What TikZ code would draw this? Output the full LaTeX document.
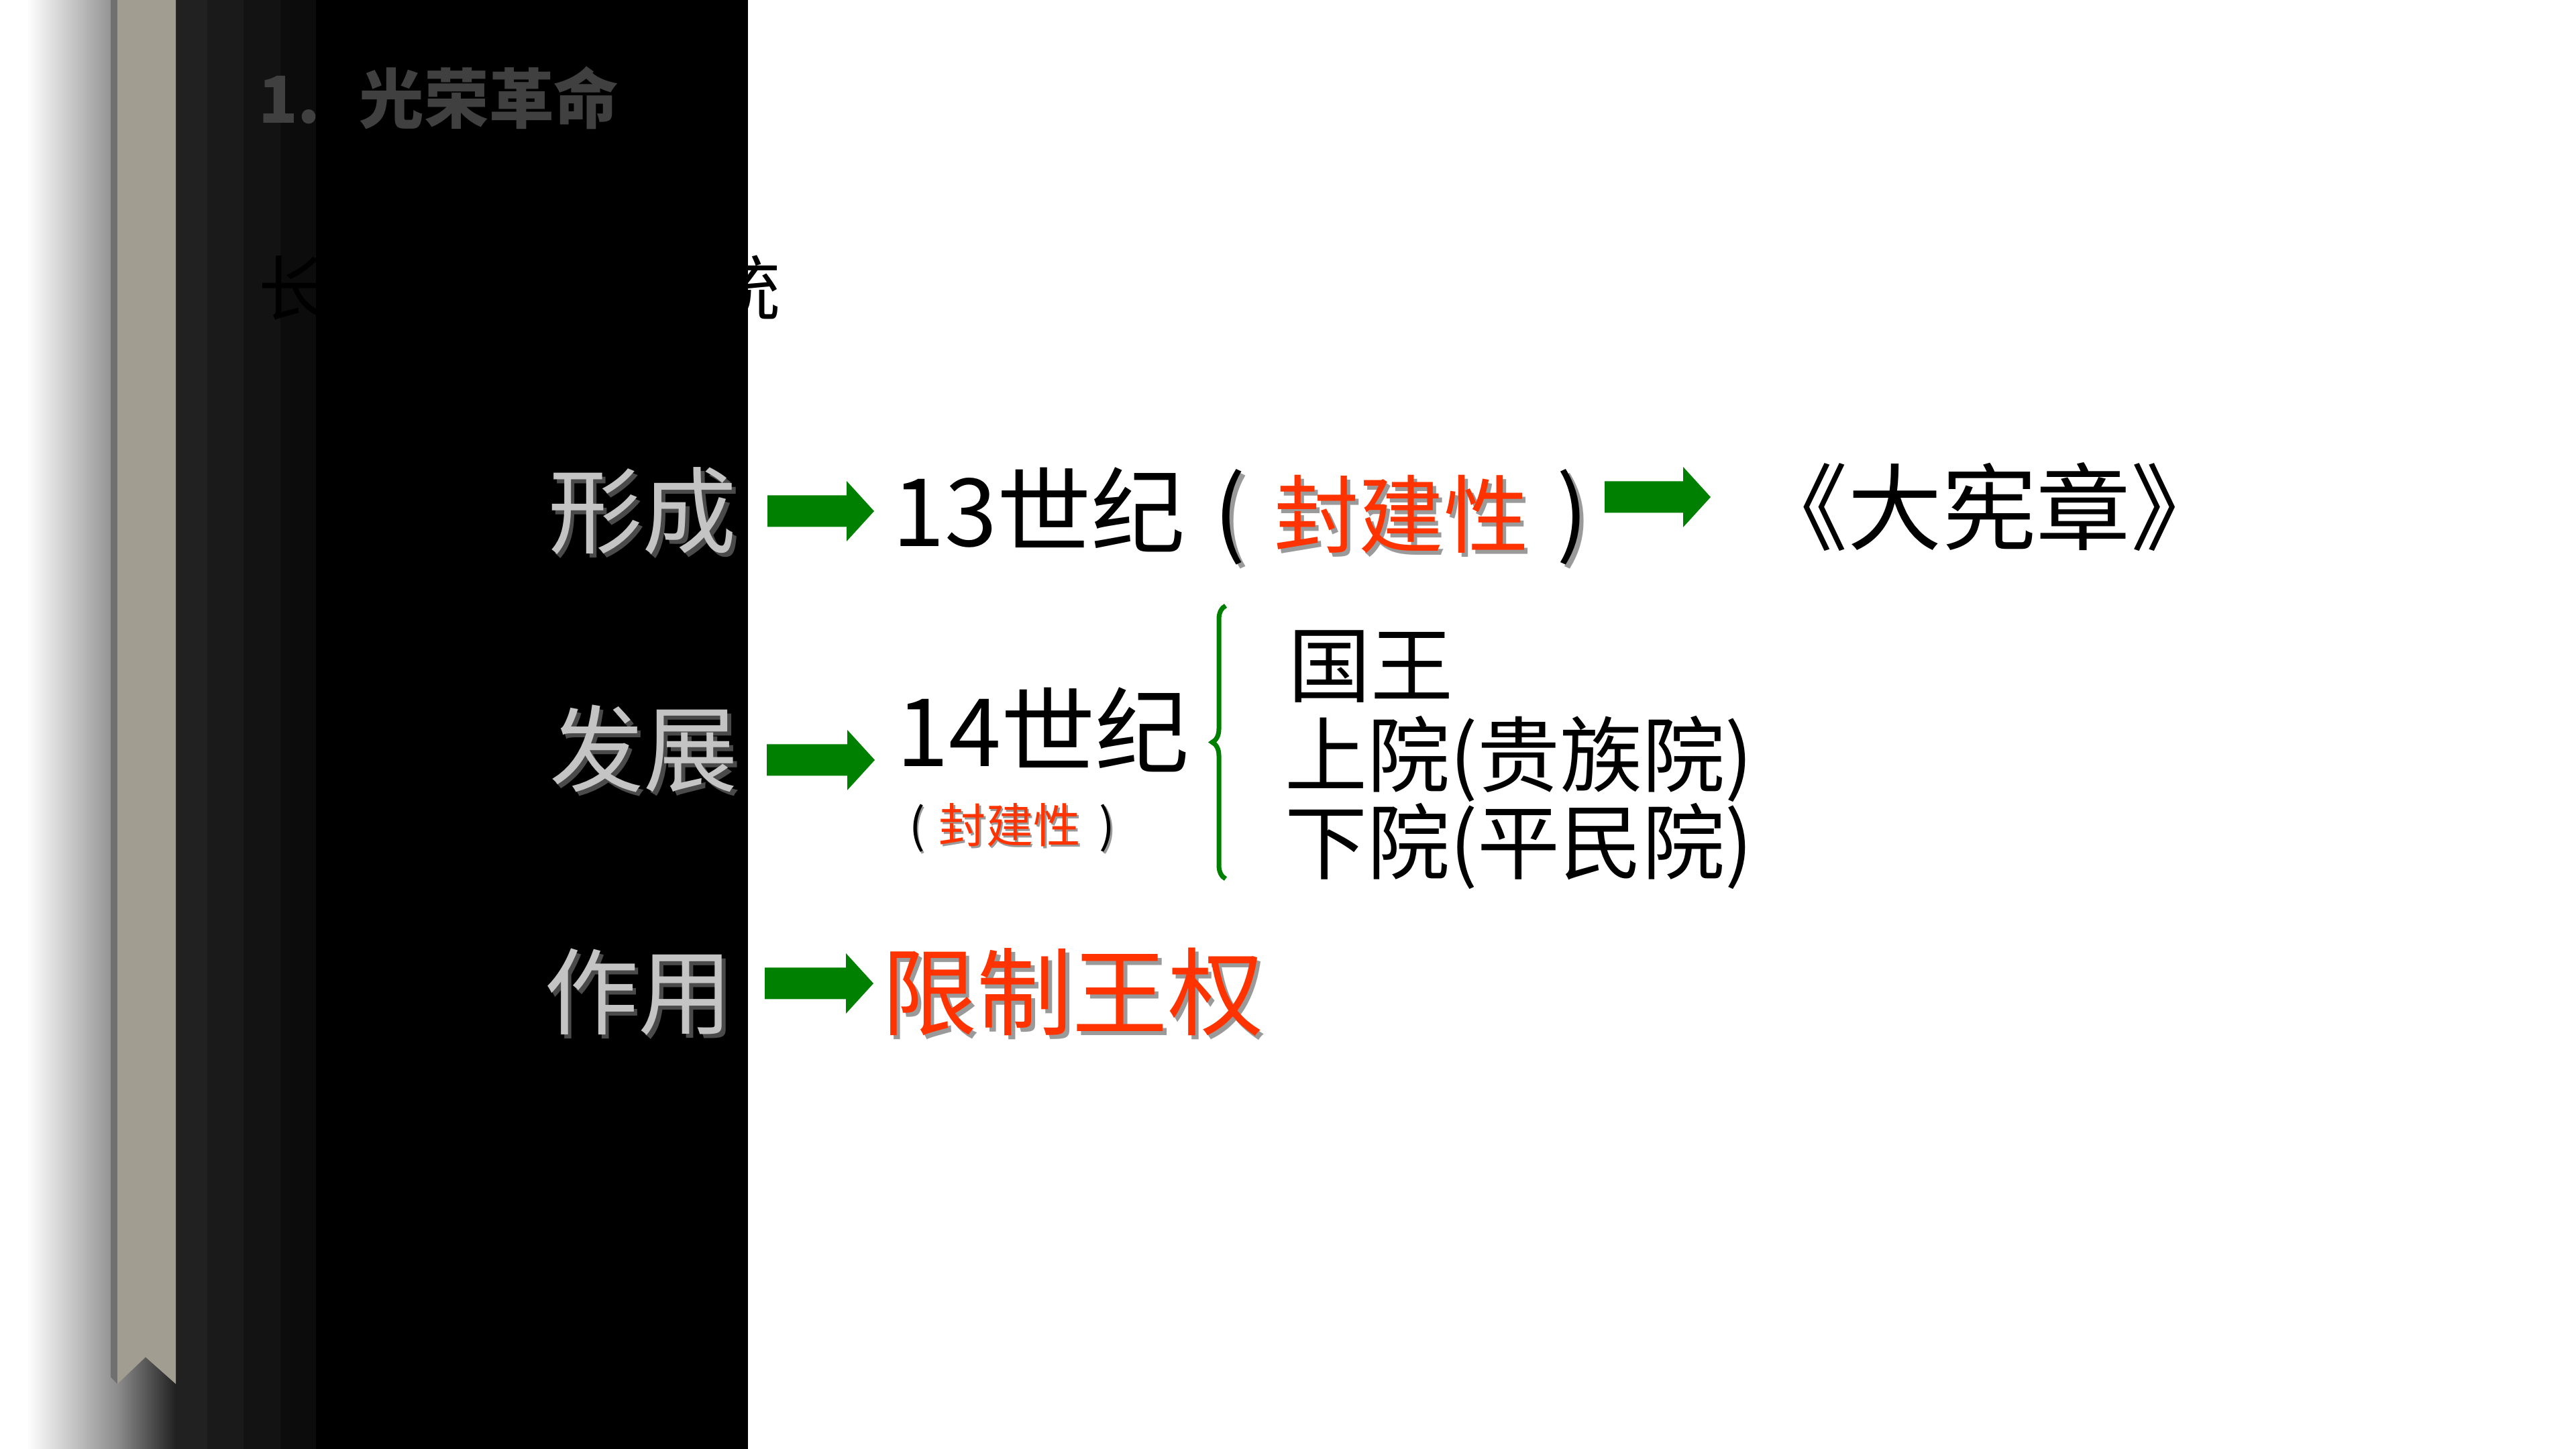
\documentclass[tikz,border=0pt]{standalone}
\usepackage{fontspec}
\setmainfont{Noto Sans CJK SC}
\usepackage{xcolor}
\usetikzlibrary{decorations.pathreplacing}
\definecolor{grgreen}{HTML}{008000}
\definecolor{grred}{HTML}{FF3300}
\definecolor{grtitlegray}{HTML}{404040}
\definecolor{grsilver}{HTML}{C4C4C4}
\definecolor{grshade}{HTML}{9A9A9A}
\definecolor{grdarkshade}{HTML}{4A4A4A}
\definecolor{grshadow}{HTML}{8C8C8C}
\definecolor{grribbon}{HTML}{A19D91}
\definecolor{grribbonshadow}{HTML}{707070}
\definecolor{grstripa}{HTML}{212121}
\definecolor{grstripb}{HTML}{1A1A1A}
\definecolor{grstripc}{HTML}{131313}
\definecolor{grstripd}{HTML}{0C0C0C}
% texto con sombra: color, sombra, texto
\newcommand\shtext[3]{\makebox[0pt][l]{\hspace{0.04em}\raisebox{-0.04em}{\textcolor{#2}{#3}}}\textcolor{#1}{#3}}

\begin{document}
\begin{tikzpicture}[
        every node/.style={inner sep=0pt, outer sep=0pt, anchor=base west},
        % ============= Estilos =============
        grtitle/.style={font=\fontsize{27.5}{30}\selectfont\bfseries, text=grtitlegray},
        grsub/.style={font=\fontsize{30}{34}\selectfont, text=black},
        grlabel/.style={font=\fontsize{40}{48}\selectfont},
        grmain/.style={font=\fontsize{40}{48}\selectfont, text=black},
        grlist/.style={font=\fontsize{35}{40}\selectfont, text=black},
        grsmall/.style={font=\fontsize{20}{24}\selectfont},
        grarrow/.style={fill=grgreen},
        grbrace/.style={draw=grgreen, line width=2pt, decorate,
                        decoration={brace, amplitude=0.2cm}}
    ]
        \useasboundingbox (0,0) rectangle (38.4,21.6);
        \fill[white] (0,0) rectangle (38.4,21.6);

        % ===== Sombra y franjas oscuras =====
        \shade[left color=white, right color=grshadow] (0.40,0) rectangle (1.75,21.6);
        \shade[left color=grshadow, right color=grstripa] (1.75,0) rectangle (2.62,21.6);
        \foreach \xa/\xb/\col in {2.62/3.09/grstripa, 3.09/3.63/grstripb,
                                  3.63/4.18/grstripc, 4.18/4.71/grstripd}{
            \fill[\col] (\xa,0) rectangle (\xb,21.6);
        }

        % ===== Subtitulo (tapado por el panel) =====
        \node[grsub] (chang) at (3.85,16.90) {长};
        \node[grsub] (tong) at (10.58,16.90) {统};

        % ===== Panel negro =====
        \fill[black] (4.71,0) rectangle (11.15,21.6);

        % ===== Titulo =====
        \node[grtitle] (title) at (3.85,19.76) {1.\hspace{0.6em}光荣革命};

        % ===== Cinta =====
        \fill[grribbonshadow] (1.65,21.6) -- (1.75,21.6) -- (1.75,0.97) -- (1.65,1.07) -- cycle;
        \fill[grribbon] (1.75,21.6) -- (2.62,21.6) -- (2.62,0.97) -- (2.17,1.37) -- (1.75,0.97) -- cycle;

        % ===== Etiquetas =====
        \foreach \nm/\xx/\yy/\txt in {xc/8.17/13.45/形成, fz/8.19/9.90/发展, zy/8.11/6.28/作用}{
            \node[grlabel] (\nm) at (\xx,\yy) {\shtext{grsilver}{grdarkshade}{\txt}};
        }

        % ===== Flechas =====
        \foreach \xs/\xe/\yc in {11.44/13.03/13.98, 23.92/25.50/14.19,
                                 11.43/13.04/10.27, 11.40/13.02/6.94}{
            \fill[grarrow] (\xs,\yc-0.235) -- (\xe-0.41,\yc-0.235) -- (\xe-0.41,\yc-0.45)
                -- (\xe,\yc) -- (\xe-0.41,\yc+0.45) -- (\xe-0.41,\yc+0.235)
                -- (\xs,\yc+0.235) -- cycle;
        }

        % ===== Formacion =====
        \node[grmain] (c13) at (13.30,13.45)
            {13世纪\hspace{0.3em}\shtext{black}{grshade}{(}\hspace{0.3em}{\fontsize{36}{40}\selectfont\shtext{grred}{grshade}{封建性}}\hspace{0.3em}\shtext{black}{grshade}{)}};
        \node[grmain] (mc) at (26.14,13.50) {《大宪章》};

        % ===== Desarrollo =====
        \node[grmain] (c14) at (13.36,10.17) {14世纪};
        \node[grsmall] (fj) at (13.55,9.03)
            {\shtext{black}{grshade}{(}\hspace{0.3em}\shtext{grred}{grshade}{封建性}\hspace{0.4em}\shtext{black}{grshade}{)}};
        \draw[grbrace] (18.27,8.50) -- (18.27,12.57);
        \foreach \nm/\xx/\yy/\txt in {king/19.20/11.22/国王,
                                      upper/19.15/9.88/{上院(贵族院)},
                                      lower/19.15/8.58/{下院(平民院)}}{
            \node[grlist] (\nm) at (\xx,\yy) {\txt};
        }

        % ===== Funcion =====
        \node[grmain, font=\fontsize{40.5}{48}\selectfont] (xz) at (13.14,6.27)
            {\shtext{grred}{grshade}{限制王权}};
    \end{tikzpicture}
\end{document}
